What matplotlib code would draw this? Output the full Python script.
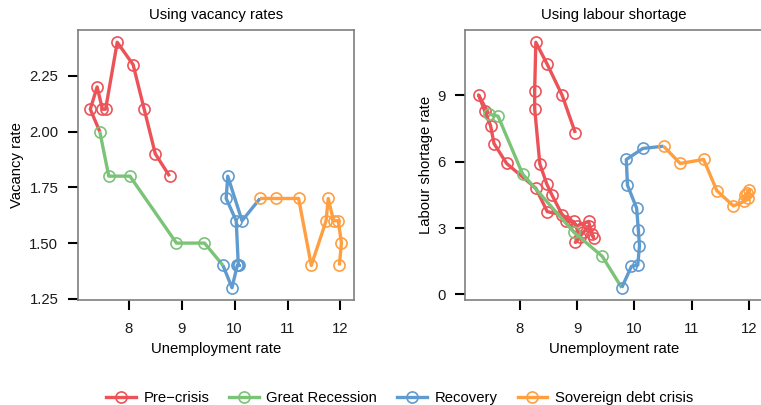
import matplotlib
matplotlib.use("Agg")
import matplotlib.pyplot as plt
from matplotlib.lines import Line2D
from matplotlib.ticker import FormatStrFormatter

plt.rcParams['font.family'] = ['Liberation Sans', 'DejaVu Sans']
plt.rcParams['font.size'] = 10.7

periods = ['Pre\u2212crisis', 'Great Recession', 'Recovery', 'Sovereign debt crisis']
colours = ['#EB5358', '#7AC377', '#609BCF', '#FF9F40']

# left panel: unemployment vs vacancy rate
vac_u = [
    [8.77, 8.50, 8.29, 8.08, 7.78, 7.56, 7.50, 7.40, 7.27],
    [7.45, 7.62, 8.02, 8.90, 9.43],
    [9.78, 9.95, 10.05, 10.09, 10.07, 10.03, 9.84, 9.87, 10.14],
    [10.48, 10.79, 11.21, 11.45, 11.73, 11.77, 11.87, 11.96, 12.02, 11.98],
]
vac_v = [
    [1.8, 1.9, 2.1, 2.3, 2.4, 2.1, 2.1, 2.2, 2.1],
    [2.0, 1.8, 1.8, 1.5, 1.5],
    [1.4, 1.3, 1.4, 1.4, 1.4, 1.6, 1.7, 1.8, 1.6],
    [1.7, 1.7, 1.7, 1.4, 1.6, 1.7, 1.6, 1.6, 1.5, 1.4],
]

# right panel: unemployment vs labour shortage
lab_u = [
    [8.97, 8.74, 8.48, 8.28, 8.26, 8.26, 8.35, 8.47, 8.56, 8.80, 8.94, 9.06, 8.97,
     9.11, 9.20, 9.29, 9.26, 9.20, 9.00, 8.74, 8.48, 8.28, 7.77, 7.55, 7.49, 7.39, 7.28],
    [7.46, 7.62, 8.05, 8.94, 9.44],
    [9.78, 9.95, 10.06, 10.09, 10.07, 10.04, 9.88, 9.86, 10.15],
    [10.51, 10.80, 11.21, 11.44, 11.73, 11.92, 11.97, 12.01, 11.99, 11.93],
]
lab_s = [
    [7.3, 9.0, 10.4, 11.4, 9.2, 8.4, 5.9, 5.0, 4.5, 3.3, 3.3, 2.6, 2.35,
     2.8, 3.07, 2.55, 2.75, 3.3, 3.1, 3.6, 3.74, 4.8, 5.92, 6.82, 7.63, 8.28, 9.02],
    [8.15, 8.06, 5.44, 2.82, 1.72],
    [0.3, 1.27, 1.32, 2.2, 2.92, 3.9, 4.94, 6.1, 6.6],
    [6.7, 5.92, 6.1, 4.69, 4.0, 4.2, 4.6, 4.72, 4.35, 4.5],
]


def draw_panel(ax, xs, ys):
    for i in range(len(xs)):
        lx = list(xs[i])
        ly = list(ys[i])
        if i + 1 < len(xs):
            lx.append(xs[i + 1][0])
            ly.append(ys[i + 1][0])
        ax.plot(lx, ly, '-', color=colours[i], lw=2.4, solid_capstyle='butt', zorder=2 + i)
        ax.plot(xs[i], ys[i], 'o', mfc='none', mec=colours[i], ms=8, mew=1.2, zorder=2 + i)
    ax.margins(0.05)
    for s in ax.spines.values():
        s.set_color('#7f7f7f')
        s.set_linewidth(1.2)
    ax.tick_params(length=7, width=1.5, colors='black', labelcolor='#1a1a1a')
    ax.tick_params(axis='x', pad=9)
    ax.tick_params(axis='y', pad=7)
    ax.set_xticks([8, 9, 10, 11, 12])
    ax.set_xlabel('Unemployment rate', labelpad=4)


fig = plt.figure(figsize=(7.61, 4.05), dpi=100)
ax1 = fig.add_axes([77.7 / 761, 1 - 300 / 405, 276.3 / 761, 270 / 405])
ax2 = fig.add_axes([465 / 761, 1 - 300 / 405, 298 / 761, 270 / 405])

draw_panel(ax1, vac_u, vac_v)
ax1.set_yticks([1.25, 1.5, 1.75, 2.0, 2.25])
ax1.yaxis.set_major_formatter(FormatStrFormatter('%.2f'))
ax1.set_ylabel('Vacancy rate', labelpad=4)
ax1.set_title('Using vacancy rates', fontsize=10.7, pad=8)

draw_panel(ax2, lab_u, lab_s)
ax2.set_yticks([0, 3, 6, 9])
ax2.set_ylabel('Labour shortage rate', labelpad=3)
ax2.set_title('Using labour shortage', fontsize=10.7, pad=8)

handles = [Line2D([], [], color=c, lw=2.4, marker='o', mfc='none', mec=c, ms=8, mew=1.2)
           for c in colours]
fig.legend(handles, periods, loc='center', bbox_to_anchor=(0.525, 1 - 398 / 405),
           ncol=4, frameon=False, handlelength=2.0, handletextpad=0.5, columnspacing=1.35)

fig.savefig('out.png', dpi=100)
